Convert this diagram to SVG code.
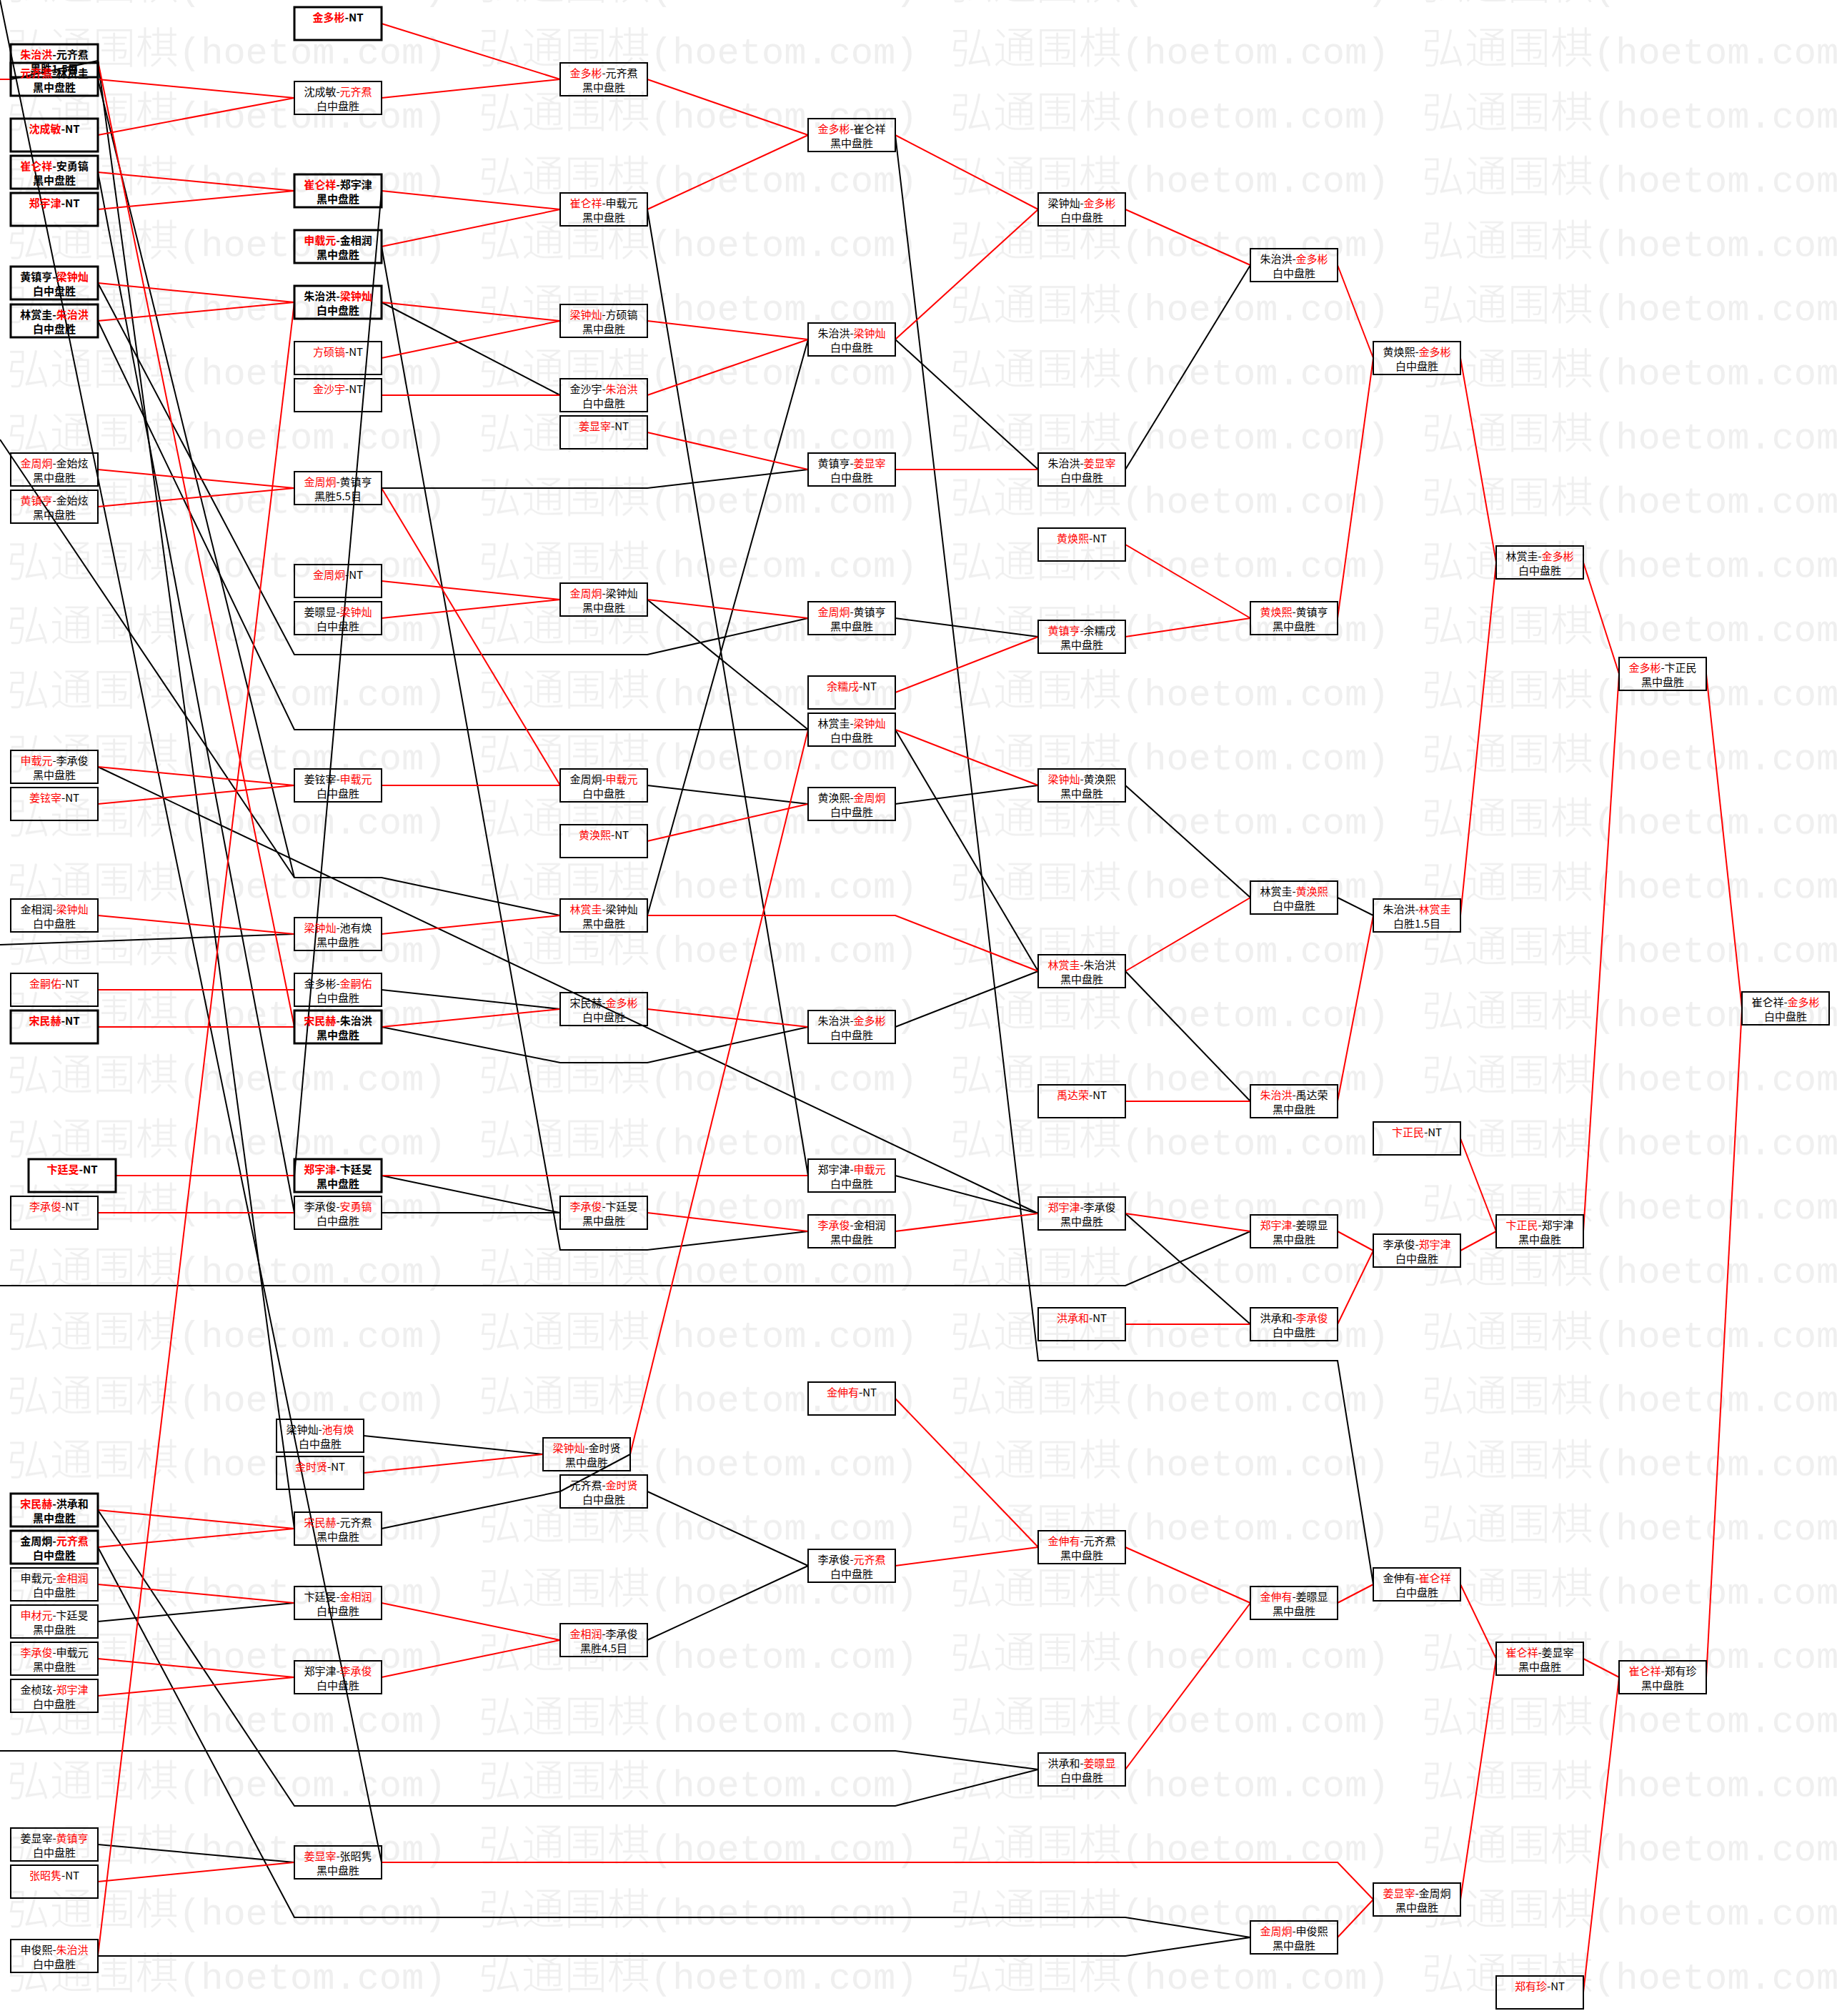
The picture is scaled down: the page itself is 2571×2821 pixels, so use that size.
<svg xmlns="http://www.w3.org/2000/svg" width="2571" height="2821" viewBox="0 0 2571 2821">
<defs>
<style>
.wm{font-family:"Noto Sans CJK SC",sans-serif;font-size:60px;font-weight:300;fill:#efefef}
.wml{font-family:"Liberation Mono",monospace;font-size:52px}
.n rect{fill:none;stroke:#000;stroke-width:2}
.n.b rect{stroke-width:3}
.n text{font-family:"Noto Sans CJK SC",sans-serif;font-size:15px;text-anchor:middle;fill:#000}
.n.b text{font-weight:bold}
.r{fill:#f00}
#edges polyline{fill:none;stroke-width:2}
#edges .er{stroke:#f00}
#edges .ek{stroke:#000}
</style>
<pattern id="wm" patternUnits="userSpaceOnUse" x="10" y="22" width="660" height="89.8">
<text x="0" y="67" class="wm">弘通围棋<tspan class="wml">(hoetom.com)</tspan></text>
</pattern>
</defs>
<rect width="2571" height="2821" fill="#fff"/>
<rect width="2571" height="2821" fill="url(#wm)"/>
<g id="edges">
<polyline class="ek" points="0,0 534,2606"/>
<polyline class="ek" points="137,85 412,2139"/>
<polyline class="ek" points="137,241 412,1697"/>
<polyline class="ek" points="137,85 15,111"/>
<polyline class="ek" points="534,267 412,1645"/>
<polyline class="ek" points="534,345 784,1749 906,1749 1131,1723"/>
<polyline class="ek" points="534,423 784,553"/>
<polyline class="ek" points="534,683 906,683 1131,657"/>
<polyline class="ek" points="906,293 1131,1645"/>
<polyline class="ek" points="1253,189 1453,1904 1872,1904 1922,2217"/>
<polyline class="ek" points="1253,475 1453,657"/>
<polyline class="ek" points="1575,657 1750,371"/>
<polyline class="ek" points="137,396 412,916 906,916 1131,865"/>
<polyline class="ek" points="137,449 412,1021 1131,1021"/>
<polyline class="ek" points="0,615 412,1228 534,1228 784,1281"/>
<polyline class="ek" points="137,111 412,1228"/>
<polyline class="ek" points="137,1073 1453,1698"/>
<polyline class="ek" points="0,1322 412,1307"/>
<polyline class="ek" points="534,1385 784,1412"/>
<polyline class="ek" points="534,1437 784,1487 906,1487 1131,1437"/>
<polyline class="ek" points="906,1281 1131,475"/>
<polyline class="ek" points="1253,865 1453,891"/>
<polyline class="ek" points="906,839 1131,1021"/>
<polyline class="ek" points="906,1099 1131,1125"/>
<polyline class="ek" points="1253,1021 1453,1359"/>
<polyline class="ek" points="1253,1125 1453,1099"/>
<polyline class="ek" points="137,2165 412,2683 1575,2683 1750,2711"/>
<polyline class="ek" points="137,2737 1575,2737 1750,2711"/>
<polyline class="ek" points="1575,1099 1750,1256"/>
<polyline class="ek" points="1575,1359 1750,1541"/>
<polyline class="ek" points="1253,1437 1453,1359"/>
<polyline class="ek" points="1872,1256 1922,1281"/>
<polyline class="ek" points="1253,1645 1453,1698"/>
<polyline class="ek" points="534,1645 784,1697"/>
<polyline class="ek" points="1575,1698 1750,1853"/>
<polyline class="ek" points="0,1799 1575,1799 1750,1723"/>
<polyline class="ek" points="906,2087 1131,2191"/>
<polyline class="ek" points="906,2295 1131,2191"/>
<polyline class="ek" points="137,2113 412,2527 1253,2527 1453,2476"/>
<polyline class="ek" points="0,2450 1253,2450 1453,2476"/>
<polyline class="ek" points="137,2269 412,2243"/>
<polyline class="ek" points="534,2139 784,2087"/>
<polyline class="ek" points="137,2581 412,2606"/>
<polyline class="ek" points="534,1697 784,1697"/>
<polyline class="ek" points="509,2009 760,2035"/>
<polyline class="ek" points="882,2035 784,2087"/>
<polyline class="er" points="534,33 784,111"/>
<polyline class="er" points="534,137 784,111"/>
<polyline class="er" points="137,111 412,137"/>
<polyline class="er" points="137,189 412,137"/>
<polyline class="er" points="137,241 412,267"/>
<polyline class="er" points="137,293 412,267"/>
<polyline class="er" points="534,267 784,293"/>
<polyline class="er" points="534,345 784,293"/>
<polyline class="er" points="137,396 412,423"/>
<polyline class="er" points="137,449 412,423"/>
<polyline class="er" points="534,423 784,449"/>
<polyline class="er" points="534,501 784,449"/>
<polyline class="er" points="534,553 784,553"/>
<polyline class="er" points="906,605 1131,657"/>
<polyline class="er" points="137,657 412,683"/>
<polyline class="er" points="137,709 412,683"/>
<polyline class="er" points="906,111 1131,189"/>
<polyline class="er" points="906,293 1131,189"/>
<polyline class="er" points="906,449 1131,475"/>
<polyline class="er" points="906,553 1131,475"/>
<polyline class="er" points="534,683 784,1099"/>
<polyline class="er" points="137,85 412,1437"/>
<polyline class="er" points="137,2737 412,423"/>
<polyline class="er" points="0,111 15,111"/>
<polyline class="er" points="1253,189 1453,293"/>
<polyline class="er" points="1253,475 1453,293"/>
<polyline class="er" points="1253,657 1453,657"/>
<polyline class="er" points="1575,293 1750,371"/>
<polyline class="er" points="1872,371 1922,501"/>
<polyline class="er" points="1872,865 1922,501"/>
<polyline class="er" points="2044,501 2094,787"/>
<polyline class="er" points="2216,787 2266,943"/>
<polyline class="er" points="2388,943 2438,1411"/>
<polyline class="er" points="534,813 784,839"/>
<polyline class="er" points="534,865 784,839"/>
<polyline class="er" points="534,1099 784,1099"/>
<polyline class="er" points="137,1073 412,1099"/>
<polyline class="er" points="137,1125 412,1099"/>
<polyline class="er" points="137,1281 412,1307"/>
<polyline class="er" points="534,1307 784,1281"/>
<polyline class="er" points="137,1385 412,1385"/>
<polyline class="er" points="137,1437 412,1437"/>
<polyline class="er" points="534,1437 784,1412"/>
<polyline class="er" points="906,1412 1131,1437"/>
<polyline class="er" points="1253,969 1453,891"/>
<polyline class="er" points="906,839 1131,865"/>
<polyline class="er" points="906,1177 1131,1125"/>
<polyline class="er" points="882,2035 1131,1021"/>
<polyline class="er" points="1253,1021 1453,1099"/>
<polyline class="er" points="906,1281 1253,1281 1453,1359"/>
<polyline class="er" points="1575,762 1750,865"/>
<polyline class="er" points="1575,891 1750,865"/>
<polyline class="er" points="1575,1359 1750,1256"/>
<polyline class="er" points="1575,1541 1750,1541"/>
<polyline class="er" points="1872,1541 1922,1281"/>
<polyline class="er" points="2044,1281 2094,787"/>
<polyline class="er" points="2044,1593 2094,1723"/>
<polyline class="er" points="2044,1750 2094,1723"/>
<polyline class="er" points="2216,1723 2266,943"/>
<polyline class="er" points="1872,1723 1922,1750"/>
<polyline class="er" points="1872,1853 1922,1750"/>
<polyline class="er" points="162,1645 412,1645"/>
<polyline class="er" points="534,1645 1131,1645"/>
<polyline class="er" points="1253,1723 1453,1698"/>
<polyline class="er" points="906,1697 1131,1723"/>
<polyline class="er" points="1575,1698 1750,1723"/>
<polyline class="er" points="1575,1853 1750,1853"/>
<polyline class="er" points="1253,1957 1453,2165"/>
<polyline class="er" points="1253,2191 1453,2165"/>
<polyline class="er" points="1575,2165 1750,2243"/>
<polyline class="er" points="1575,2476 1750,2243"/>
<polyline class="er" points="1872,2243 1922,2217"/>
<polyline class="er" points="2044,2217 2094,2321"/>
<polyline class="er" points="2044,2658 2094,2321"/>
<polyline class="er" points="2216,2321 2266,2347"/>
<polyline class="er" points="2216,2788 2266,2347"/>
<polyline class="er" points="2388,2347 2438,1411"/>
<polyline class="er" points="1872,2711 1922,2658"/>
<polyline class="er" points="534,2606 1872,2606 1922,2658"/>
<polyline class="er" points="137,2217 412,2243"/>
<polyline class="er" points="137,2321 412,2347"/>
<polyline class="er" points="137,2373 412,2347"/>
<polyline class="er" points="534,2243 784,2295"/>
<polyline class="er" points="534,2347 784,2295"/>
<polyline class="er" points="137,2113 412,2139"/>
<polyline class="er" points="137,2165 412,2139"/>
<polyline class="er" points="137,2633 412,2606"/>
<polyline class="er" points="137,1697 412,1697"/>
<polyline class="er" points="509,2061 760,2035"/>
</g>
<g id="B0a" class="n b"><rect x="15" y="62" width="122" height="46"/><text x="76" y="82"><tspan class="r">朱治洪</tspan>-元齐焄</text><text x="76" y="102">黑胜1.5目</text></g>
<g id="B0b" class="n b"><rect x="15" y="88" width="122" height="46"/><text x="76" y="108"><tspan class="r">元齐焄</tspan>-林赏圭</text><text x="76" y="128">黑中盘胜</text></g>
<g id="B0c" class="n b"><rect x="15" y="166" width="122" height="46"/><text x="76" y="186"><tspan class="r">沈成敏</tspan>-NT</text></g>
<g id="B0d" class="n b"><rect x="15" y="218" width="122" height="46"/><text x="76" y="238"><tspan class="r">崔仑祥</tspan>-安勇镐</text><text x="76" y="258">黑中盘胜</text></g>
<g id="B0e" class="n b"><rect x="15" y="270" width="122" height="46"/><text x="76" y="290"><tspan class="r">郑宇津</tspan>-NT</text></g>
<g id="B0f" class="n b"><rect x="15" y="373" width="122" height="46"/><text x="76" y="393">黄镇亨-<tspan class="r">梁钟灿</tspan></text><text x="76" y="413">白中盘胜</text></g>
<g id="B0g" class="n b"><rect x="15" y="426" width="122" height="46"/><text x="76" y="446">林赏圭-<tspan class="r">朱治洪</tspan></text><text x="76" y="466">白中盘胜</text></g>
<g id="B0h" class="n"><rect x="15" y="634" width="122" height="46"/><text x="76" y="654"><tspan class="r">金周炯</tspan>-金始炫</text><text x="76" y="674">黑中盘胜</text></g>
<g id="B0i" class="n"><rect x="15" y="686" width="122" height="46"/><text x="76" y="706"><tspan class="r">黄镇亨</tspan>-金始炫</text><text x="76" y="726">黑中盘胜</text></g>
<g id="B0j" class="n"><rect x="15" y="1050" width="122" height="46"/><text x="76" y="1070"><tspan class="r">申载元</tspan>-李承俊</text><text x="76" y="1090">黑中盘胜</text></g>
<g id="B0k" class="n"><rect x="15" y="1102" width="122" height="46"/><text x="76" y="1122"><tspan class="r">姜铉宰</tspan>-NT</text></g>
<g id="B0l" class="n"><rect x="15" y="1258" width="122" height="46"/><text x="76" y="1278">金相润-<tspan class="r">梁钟灿</tspan></text><text x="76" y="1298">白中盘胜</text></g>
<g id="B0m" class="n"><rect x="15" y="1362" width="122" height="46"/><text x="76" y="1382"><tspan class="r">金嗣佑</tspan>-NT</text></g>
<g id="B0n" class="n b"><rect x="15" y="1414" width="122" height="46"/><text x="76" y="1434"><tspan class="r">宋民赫</tspan>-NT</text></g>
<g id="B0o" class="n b"><rect x="40" y="1622" width="122" height="46"/><text x="101" y="1642"><tspan class="r">卞廷旻</tspan>-NT</text></g>
<g id="B0p" class="n"><rect x="15" y="1674" width="122" height="46"/><text x="76" y="1694"><tspan class="r">李承俊</tspan>-NT</text></g>
<g id="B0q" class="n b"><rect x="15" y="2090" width="122" height="46"/><text x="76" y="2110"><tspan class="r">宋民赫</tspan>-洪承和</text><text x="76" y="2130">黑中盘胜</text></g>
<g id="B0r" class="n b"><rect x="15" y="2142" width="122" height="46"/><text x="76" y="2162">金周炯-<tspan class="r">元齐焄</tspan></text><text x="76" y="2182">白中盘胜</text></g>
<g id="B0s" class="n"><rect x="15" y="2194" width="122" height="46"/><text x="76" y="2214">申载元-<tspan class="r">金相润</tspan></text><text x="76" y="2234">白中盘胜</text></g>
<g id="B0t" class="n"><rect x="15" y="2246" width="122" height="46"/><text x="76" y="2266"><tspan class="r">申材元</tspan>-卞廷旻</text><text x="76" y="2286">黑中盘胜</text></g>
<g id="B0u" class="n"><rect x="15" y="2298" width="122" height="46"/><text x="76" y="2318"><tspan class="r">李承俊</tspan>-申载元</text><text x="76" y="2338">黑中盘胜</text></g>
<g id="B0v" class="n"><rect x="15" y="2350" width="122" height="46"/><text x="76" y="2370">金桢玹-<tspan class="r">郑宇津</tspan></text><text x="76" y="2390">白中盘胜</text></g>
<g id="B0w" class="n"><rect x="15" y="2558" width="122" height="46"/><text x="76" y="2578">姜显宰-<tspan class="r">黄镇亨</tspan></text><text x="76" y="2598">白中盘胜</text></g>
<g id="B0x" class="n"><rect x="15" y="2610" width="122" height="46"/><text x="76" y="2630"><tspan class="r">张昭隽</tspan>-NT</text></g>
<g id="B0y" class="n"><rect x="15" y="2714" width="122" height="46"/><text x="76" y="2734">申俊熙-<tspan class="r">朱治洪</tspan></text><text x="76" y="2754">白中盘胜</text></g>
<g id="B1a" class="n b"><rect x="412" y="10" width="122" height="46"/><text x="473" y="30"><tspan class="r">金多彬</tspan>-NT</text></g>
<g id="B1b" class="n"><rect x="412" y="114" width="122" height="46"/><text x="473" y="134">沈成敏-<tspan class="r">元齐焄</tspan></text><text x="473" y="154">白中盘胜</text></g>
<g id="B1c" class="n b"><rect x="412" y="244" width="122" height="46"/><text x="473" y="264"><tspan class="r">崔仑祥</tspan>-郑宇津</text><text x="473" y="284">黑中盘胜</text></g>
<g id="B1d" class="n b"><rect x="412" y="322" width="122" height="46"/><text x="473" y="342"><tspan class="r">申载元</tspan>-金相润</text><text x="473" y="362">黑中盘胜</text></g>
<g id="B1e" class="n b"><rect x="412" y="400" width="122" height="46"/><text x="473" y="420">朱治洪-<tspan class="r">梁钟灿</tspan></text><text x="473" y="440">白中盘胜</text></g>
<g id="B1f" class="n"><rect x="412" y="478" width="122" height="46"/><text x="473" y="498"><tspan class="r">方硕镐</tspan>-NT</text></g>
<g id="B1g" class="n"><rect x="412" y="530" width="122" height="46"/><text x="473" y="550"><tspan class="r">金沙宇</tspan>-NT</text></g>
<g id="B1h" class="n"><rect x="412" y="660" width="122" height="46"/><text x="473" y="680"><tspan class="r">金周炯</tspan>-黄镇亨</text><text x="473" y="700">黑胜5.5目</text></g>
<g id="B1i" class="n"><rect x="412" y="790" width="122" height="46"/><text x="473" y="810"><tspan class="r">金周炯</tspan>-NT</text></g>
<g id="B1j" class="n"><rect x="412" y="842" width="122" height="46"/><text x="473" y="862">姜暻显-<tspan class="r">梁钟灿</tspan></text><text x="473" y="882">白中盘胜</text></g>
<g id="B1k" class="n"><rect x="412" y="1076" width="122" height="46"/><text x="473" y="1096">姜铉宰-<tspan class="r">申载元</tspan></text><text x="473" y="1116">白中盘胜</text></g>
<g id="B1l" class="n"><rect x="412" y="1284" width="122" height="46"/><text x="473" y="1304"><tspan class="r">梁钟灿</tspan>-池有焕</text><text x="473" y="1324">黑中盘胜</text></g>
<g id="B1m" class="n"><rect x="412" y="1362" width="122" height="46"/><text x="473" y="1382">金多彬-<tspan class="r">金嗣佑</tspan></text><text x="473" y="1402">白中盘胜</text></g>
<g id="B1n" class="n b"><rect x="412" y="1414" width="122" height="46"/><text x="473" y="1434"><tspan class="r">宋民赫</tspan>-朱治洪</text><text x="473" y="1454">黑中盘胜</text></g>
<g id="B1o" class="n b"><rect x="412" y="1622" width="122" height="46"/><text x="473" y="1642"><tspan class="r">郑宇津</tspan>-卞廷旻</text><text x="473" y="1662">黑中盘胜</text></g>
<g id="B1p" class="n"><rect x="412" y="1674" width="122" height="46"/><text x="473" y="1694">李承俊-<tspan class="r">安勇镐</tspan></text><text x="473" y="1714">白中盘胜</text></g>
<g id="B1q" class="n"><rect x="387" y="1986" width="122" height="46"/><text x="448" y="2006">梁钟灿-<tspan class="r">池有焕</tspan></text><text x="448" y="2026">白中盘胜</text></g>
<g id="B1r" class="n"><rect x="387" y="2038" width="122" height="46"/><text x="448" y="2058"><tspan class="r">金时贤</tspan>-NT</text></g>
<g id="B1s" class="n"><rect x="412" y="2116" width="122" height="46"/><text x="473" y="2136"><tspan class="r">宋民赫</tspan>-元齐焄</text><text x="473" y="2156">黑中盘胜</text></g>
<g id="B1t" class="n"><rect x="412" y="2220" width="122" height="46"/><text x="473" y="2240">卞廷旻-<tspan class="r">金相润</tspan></text><text x="473" y="2260">白中盘胜</text></g>
<g id="B1u" class="n"><rect x="412" y="2324" width="122" height="46"/><text x="473" y="2344">郑宇津-<tspan class="r">李承俊</tspan></text><text x="473" y="2364">白中盘胜</text></g>
<g id="B1v" class="n"><rect x="412" y="2583" width="122" height="46"/><text x="473" y="2603"><tspan class="r">姜显宰</tspan>-张昭隽</text><text x="473" y="2623">黑中盘胜</text></g>
<g id="B2a" class="n"><rect x="784" y="88" width="122" height="46"/><text x="845" y="108"><tspan class="r">金多彬</tspan>-元齐焄</text><text x="845" y="128">黑中盘胜</text></g>
<g id="B2b" class="n"><rect x="784" y="270" width="122" height="46"/><text x="845" y="290"><tspan class="r">崔仑祥</tspan>-申载元</text><text x="845" y="310">黑中盘胜</text></g>
<g id="B2c" class="n"><rect x="784" y="426" width="122" height="46"/><text x="845" y="446"><tspan class="r">梁钟灿</tspan>-方硕镐</text><text x="845" y="466">黑中盘胜</text></g>
<g id="B2d" class="n"><rect x="784" y="530" width="122" height="46"/><text x="845" y="550">金沙宇-<tspan class="r">朱治洪</tspan></text><text x="845" y="570">白中盘胜</text></g>
<g id="B2e" class="n"><rect x="784" y="582" width="122" height="46"/><text x="845" y="602"><tspan class="r">姜显宰</tspan>-NT</text></g>
<g id="B2f" class="n"><rect x="784" y="816" width="122" height="46"/><text x="845" y="836"><tspan class="r">金周炯</tspan>-梁钟灿</text><text x="845" y="856">黑中盘胜</text></g>
<g id="B2g" class="n"><rect x="784" y="1076" width="122" height="46"/><text x="845" y="1096">金周炯-<tspan class="r">申载元</tspan></text><text x="845" y="1116">白中盘胜</text></g>
<g id="B2h" class="n"><rect x="784" y="1154" width="122" height="46"/><text x="845" y="1174"><tspan class="r">黄涣熙</tspan>-NT</text></g>
<g id="B2i" class="n"><rect x="784" y="1258" width="122" height="46"/><text x="845" y="1278"><tspan class="r">林赏圭</tspan>-梁钟灿</text><text x="845" y="1298">黑中盘胜</text></g>
<g id="B2j" class="n"><rect x="784" y="1389" width="122" height="46"/><text x="845" y="1409">宋民赫-<tspan class="r">金多彬</tspan></text><text x="845" y="1429">白中盘胜</text></g>
<g id="B2k" class="n"><rect x="784" y="1674" width="122" height="46"/><text x="845" y="1694"><tspan class="r">李承俊</tspan>-卞廷旻</text><text x="845" y="1714">黑中盘胜</text></g>
<g id="B2l" class="n"><rect x="760" y="2012" width="122" height="46"/><text x="821" y="2032"><tspan class="r">梁钟灿</tspan>-金时贤</text><text x="821" y="2052">黑中盘胜</text></g>
<g id="B2m" class="n"><rect x="784" y="2064" width="122" height="46"/><text x="845" y="2084">元齐焄-<tspan class="r">金时贤</tspan></text><text x="845" y="2104">白中盘胜</text></g>
<g id="B2n" class="n"><rect x="784" y="2272" width="122" height="46"/><text x="845" y="2292"><tspan class="r">金相润</tspan>-李承俊</text><text x="845" y="2312">黑胜4.5目</text></g>
<g id="B3a" class="n"><rect x="1131" y="166" width="122" height="46"/><text x="1192" y="186"><tspan class="r">金多彬</tspan>-崔仑祥</text><text x="1192" y="206">黑中盘胜</text></g>
<g id="B3b" class="n"><rect x="1131" y="452" width="122" height="46"/><text x="1192" y="472">朱治洪-<tspan class="r">梁钟灿</tspan></text><text x="1192" y="492">白中盘胜</text></g>
<g id="B3c" class="n"><rect x="1131" y="634" width="122" height="46"/><text x="1192" y="654">黄镇亨-<tspan class="r">姜显宰</tspan></text><text x="1192" y="674">白中盘胜</text></g>
<g id="B3d" class="n"><rect x="1131" y="842" width="122" height="46"/><text x="1192" y="862"><tspan class="r">金周炯</tspan>-黄镇亨</text><text x="1192" y="882">黑中盘胜</text></g>
<g id="B3e" class="n"><rect x="1131" y="946" width="122" height="46"/><text x="1192" y="966"><tspan class="r">余糯戌</tspan>-NT</text></g>
<g id="B3f" class="n"><rect x="1131" y="998" width="122" height="46"/><text x="1192" y="1018">林赏圭-<tspan class="r">梁钟灿</tspan></text><text x="1192" y="1038">白中盘胜</text></g>
<g id="B3g" class="n"><rect x="1131" y="1102" width="122" height="46"/><text x="1192" y="1122">黄涣熙-<tspan class="r">金周炯</tspan></text><text x="1192" y="1142">白中盘胜</text></g>
<g id="B3h" class="n"><rect x="1131" y="1414" width="122" height="46"/><text x="1192" y="1434">朱治洪-<tspan class="r">金多彬</tspan></text><text x="1192" y="1454">白中盘胜</text></g>
<g id="B3i" class="n"><rect x="1131" y="1622" width="122" height="46"/><text x="1192" y="1642">郑宇津-<tspan class="r">申载元</tspan></text><text x="1192" y="1662">白中盘胜</text></g>
<g id="B3j" class="n"><rect x="1131" y="1700" width="122" height="46"/><text x="1192" y="1720"><tspan class="r">李承俊</tspan>-金相润</text><text x="1192" y="1740">黑中盘胜</text></g>
<g id="B3k" class="n"><rect x="1131" y="1934" width="122" height="46"/><text x="1192" y="1954"><tspan class="r">金伸有</tspan>-NT</text></g>
<g id="B3l" class="n"><rect x="1131" y="2168" width="122" height="46"/><text x="1192" y="2188">李承俊-<tspan class="r">元齐焄</tspan></text><text x="1192" y="2208">白中盘胜</text></g>
<g id="B4a" class="n"><rect x="1453" y="270" width="122" height="46"/><text x="1514" y="290">梁钟灿-<tspan class="r">金多彬</tspan></text><text x="1514" y="310">白中盘胜</text></g>
<g id="B4b" class="n"><rect x="1453" y="634" width="122" height="46"/><text x="1514" y="654">朱治洪-<tspan class="r">姜显宰</tspan></text><text x="1514" y="674">白中盘胜</text></g>
<g id="B4c" class="n"><rect x="1453" y="739" width="122" height="46"/><text x="1514" y="759"><tspan class="r">黄焕熙</tspan>-NT</text></g>
<g id="B4d" class="n"><rect x="1453" y="868" width="122" height="46"/><text x="1514" y="888"><tspan class="r">黄镇亨</tspan>-余糯戌</text><text x="1514" y="908">黑中盘胜</text></g>
<g id="B4e" class="n"><rect x="1453" y="1076" width="122" height="46"/><text x="1514" y="1096"><tspan class="r">梁钟灿</tspan>-黄涣熙</text><text x="1514" y="1116">黑中盘胜</text></g>
<g id="B4f" class="n"><rect x="1453" y="1336" width="122" height="46"/><text x="1514" y="1356"><tspan class="r">林赏圭</tspan>-朱治洪</text><text x="1514" y="1376">黑中盘胜</text></g>
<g id="B4g" class="n"><rect x="1453" y="1518" width="122" height="46"/><text x="1514" y="1538"><tspan class="r">禹达荣</tspan>-NT</text></g>
<g id="B4h" class="n"><rect x="1453" y="1675" width="122" height="46"/><text x="1514" y="1695"><tspan class="r">郑宇津</tspan>-李承俊</text><text x="1514" y="1715">黑中盘胜</text></g>
<g id="B4i" class="n"><rect x="1453" y="1830" width="122" height="46"/><text x="1514" y="1850"><tspan class="r">洪承和</tspan>-NT</text></g>
<g id="B4j" class="n"><rect x="1453" y="2142" width="122" height="46"/><text x="1514" y="2162"><tspan class="r">金伸有</tspan>-元齐焄</text><text x="1514" y="2182">黑中盘胜</text></g>
<g id="B4k" class="n"><rect x="1453" y="2453" width="122" height="46"/><text x="1514" y="2473">洪承和-<tspan class="r">姜暻显</tspan></text><text x="1514" y="2493">白中盘胜</text></g>
<g id="B5a" class="n"><rect x="1750" y="348" width="122" height="46"/><text x="1811" y="368">朱治洪-<tspan class="r">金多彬</tspan></text><text x="1811" y="388">白中盘胜</text></g>
<g id="B5b" class="n"><rect x="1750" y="842" width="122" height="46"/><text x="1811" y="862"><tspan class="r">黄焕熙</tspan>-黄镇亨</text><text x="1811" y="882">黑中盘胜</text></g>
<g id="B5c" class="n"><rect x="1750" y="1233" width="122" height="46"/><text x="1811" y="1253">林赏圭-<tspan class="r">黄涣熙</tspan></text><text x="1811" y="1273">白中盘胜</text></g>
<g id="B5d" class="n"><rect x="1750" y="1518" width="122" height="46"/><text x="1811" y="1538"><tspan class="r">朱治洪</tspan>-禹达荣</text><text x="1811" y="1558">黑中盘胜</text></g>
<g id="B5e" class="n"><rect x="1750" y="1700" width="122" height="46"/><text x="1811" y="1720"><tspan class="r">郑宇津</tspan>-姜暻显</text><text x="1811" y="1740">黑中盘胜</text></g>
<g id="B5f" class="n"><rect x="1750" y="1830" width="122" height="46"/><text x="1811" y="1850">洪承和-<tspan class="r">李承俊</tspan></text><text x="1811" y="1870">白中盘胜</text></g>
<g id="B5g" class="n"><rect x="1750" y="2220" width="122" height="46"/><text x="1811" y="2240"><tspan class="r">金伸有</tspan>-姜暻显</text><text x="1811" y="2260">黑中盘胜</text></g>
<g id="B5h" class="n"><rect x="1750" y="2688" width="122" height="46"/><text x="1811" y="2708"><tspan class="r">金周炯</tspan>-申俊熙</text><text x="1811" y="2728">黑中盘胜</text></g>
<g id="B6a" class="n"><rect x="1922" y="478" width="122" height="46"/><text x="1983" y="498">黄焕熙-<tspan class="r">金多彬</tspan></text><text x="1983" y="518">白中盘胜</text></g>
<g id="B6b" class="n"><rect x="1922" y="1258" width="122" height="46"/><text x="1983" y="1278">朱治洪-<tspan class="r">林赏圭</tspan></text><text x="1983" y="1298">白胜1.5目</text></g>
<g id="B6c" class="n"><rect x="1922" y="1570" width="122" height="46"/><text x="1983" y="1590"><tspan class="r">卞正民</tspan>-NT</text></g>
<g id="B6d" class="n"><rect x="1922" y="1727" width="122" height="46"/><text x="1983" y="1747">李承俊-<tspan class="r">郑宇津</tspan></text><text x="1983" y="1767">白中盘胜</text></g>
<g id="B6e" class="n"><rect x="1922" y="2194" width="122" height="46"/><text x="1983" y="2214">金伸有-<tspan class="r">崔仑祥</tspan></text><text x="1983" y="2234">白中盘胜</text></g>
<g id="B6f" class="n"><rect x="1922" y="2635" width="122" height="46"/><text x="1983" y="2655"><tspan class="r">姜显宰</tspan>-金周炯</text><text x="1983" y="2675">黑中盘胜</text></g>
<g id="B7a" class="n"><rect x="2094" y="764" width="122" height="46"/><text x="2155" y="784">林赏圭-<tspan class="r">金多彬</tspan></text><text x="2155" y="804">白中盘胜</text></g>
<g id="B7b" class="n"><rect x="2094" y="1700" width="122" height="46"/><text x="2155" y="1720"><tspan class="r">卞正民</tspan>-郑宇津</text><text x="2155" y="1740">黑中盘胜</text></g>
<g id="B7c" class="n"><rect x="2094" y="2298" width="122" height="46"/><text x="2155" y="2318"><tspan class="r">崔仑祥</tspan>-姜显宰</text><text x="2155" y="2338">黑中盘胜</text></g>
<g id="B7d" class="n"><rect x="2094" y="2765" width="122" height="46"/><text x="2155" y="2785"><tspan class="r">郑有珍</tspan>-NT</text></g>
<g id="B8a" class="n"><rect x="2266" y="920" width="122" height="46"/><text x="2327" y="940"><tspan class="r">金多彬</tspan>-卞正民</text><text x="2327" y="960">黑中盘胜</text></g>
<g id="B8b" class="n"><rect x="2266" y="2324" width="122" height="46"/><text x="2327" y="2344"><tspan class="r">崔仑祥</tspan>-郑有珍</text><text x="2327" y="2364">黑中盘胜</text></g>
<g id="B9a" class="n"><rect x="2438" y="1388" width="122" height="46"/><text x="2499" y="1408">崔仑祥-<tspan class="r">金多彬</tspan></text><text x="2499" y="1428">白中盘胜</text></g>
</svg>
